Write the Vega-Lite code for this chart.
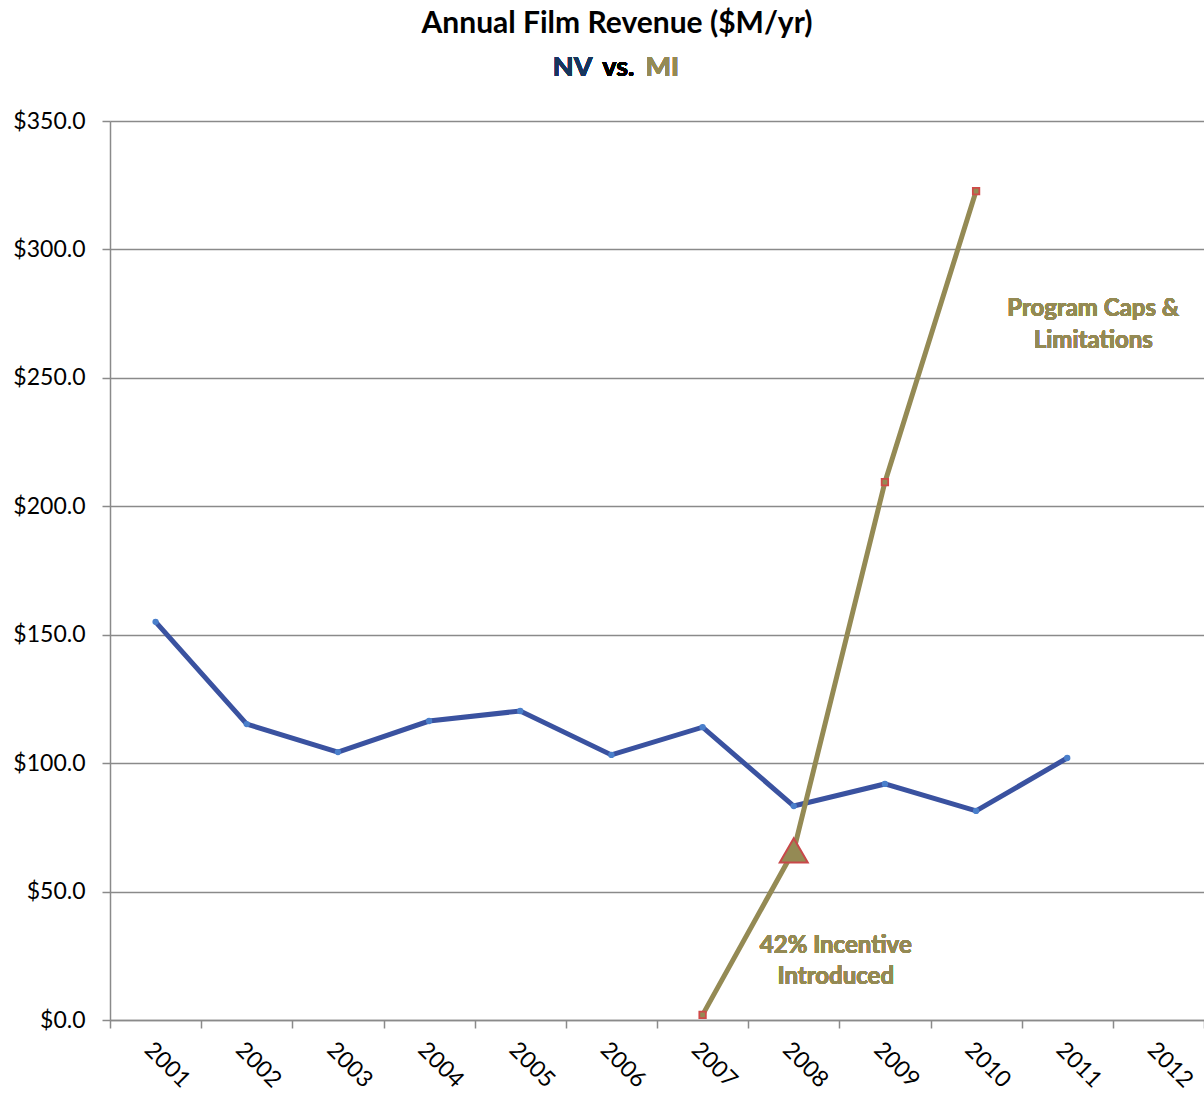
{
  "$schema": "https://vega.github.io/schema/vega-lite/v6.json",
  "width": 1094,
  "height": 899,
  "autosize": {"type": "none"},
  "padding": {"left": 110, "top": 121, "right": 0, "bottom": 77},
  "background": "white",
  "title": {
    "text": "Annual Film Revenue ($M/yr)",
    "font": "Lato",
    "fontSize": 30,
    "fontWeight": "bold",
    "color": "#000000",
    "anchor": "middle",
    "frame": "group",
    "dx": -40,
    "offset": -9,
    "baseline": "alphabetic"
  },
  "config": {
    "view": {"stroke": null},
    "axis": {
      "labelFont": "Lato",
      "labelFontSize": 23,
      "labelColor": "#000000",
      "domainColor": "#8a8a8a",
      "domainWidth": 1.5,
      "tickColor": "#8a8a8a",
      "tickWidth": 1.5,
      "tickSize": 8,
      "gridColor": "#8a8a8a",
      "gridWidth": 1.5,
      "gridOpacity": 1,
      "title": null
    }
  },
  "data": {
    "values": [
      {"year": "2001", "series": "NV", "value": 155.0},
      {"year": "2002", "series": "NV", "value": 115.2},
      {"year": "2003", "series": "NV", "value": 104.3},
      {"year": "2004", "series": "NV", "value": 116.4},
      {"year": "2005", "series": "NV", "value": 120.3},
      {"year": "2006", "series": "NV", "value": 103.2},
      {"year": "2007", "series": "NV", "value": 114.0},
      {"year": "2008", "series": "NV", "value": 83.3},
      {"year": "2009", "series": "NV", "value": 91.9},
      {"year": "2010", "series": "NV", "value": 81.4},
      {"year": "2011", "series": "NV", "value": 102.0},
      {"year": "2007", "series": "MI", "value": 2.0},
      {"year": "2008", "series": "MI", "value": 66.0},
      {"year": "2009", "series": "MI", "value": 209.4},
      {"year": "2010", "series": "MI", "value": 322.7}
    ]
  },
  "encoding": {
    "x": {
      "field": "year",
      "type": "ordinal",
      "bandPosition": 0.5,
      "scale": {
        "type": "band",
        "domain": ["2001","2002","2003","2004","2005","2006","2007","2008","2009","2010","2011","2012"],
        "paddingInner": 0,
        "paddingOuter": 0
      },
      "axis": {
        "tickBand": "extent",
        "labelAngle": 45,
        "labelPadding": 10,
        "grid": false,
        "title": null
      }
    },
    "y": {
      "field": "value",
      "type": "quantitative",
      "scale": {"domain": [0, 350], "nice": false, "zero": true},
      "axis": {
        "values": [0, 50, 100, 150, 200, 250, 300, 350],
        "format": "$.1f",
        "labelPadding": 17,
        "grid": true,
        "title": null
      }
    }
  },
  "layer": [
    {
      "transform": [{"filter": "datum.series === 'NV'"}],
      "mark": {"type": "line", "color": "#3A52A0", "strokeWidth": 5}
    },
    {
      "transform": [{"filter": "datum.series === 'NV'"}],
      "mark": {"type": "circle", "color": "#4A7FCB", "size": 40, "opacity": 1}
    },
    {
      "transform": [{"filter": "datum.series === 'MI'"}],
      "mark": {"type": "line", "color": "#948A54", "strokeWidth": 5}
    },
    {
      "transform": [{"filter": "datum.series === 'MI' && datum.year !== '2008'"}],
      "mark": {"type": "point", "shape": "square", "size": 42, "filled": true, "fill": "#948A54", "stroke": "#D04A48", "strokeWidth": 1.8, "opacity": 1}
    },
    {
      "transform": [{"filter": "datum.series === 'MI' && datum.year === '2008'"}],
      "mark": {"type": "point", "shape": "triangle-up", "size": 784, "filled": true, "fill": "#948A54", "stroke": "#C8484A", "strokeWidth": 2, "opacity": 1}
    },
    {
      "mark": {"type": "text", "font": "Lato", "fontSize": 24, "fontWeight": "bold", "color": "#948A54", "align": "center", "baseline": "middle", "lineHeight": 31, "dx": 42},
      "encoding": {
        "x": {"datum": "2008", "bandPosition": 0.5},
        "y": {"datum": 28.8},
        "text": {"value": ["42% Incentive", "Introduced"]}
      }
    },
    {
      "mark": {"type": "text", "font": "Lato", "fontSize": 24, "fontWeight": "bold", "color": "#948A54", "align": "center", "baseline": "middle", "lineHeight": 32, "dx": 26},
      "encoding": {
        "x": {"datum": "2011", "bandPosition": 0.5},
        "y": {"datum": 276.8},
        "text": {"value": ["Program Caps &", "Limitations"]}
      }
    },
    {
      "mark": {"type": "text", "font": "Lato", "fontSize": 27, "fontWeight": "bold", "color": "#17365D", "align": "right", "baseline": "middle", "dx": -19},
      "encoding": {
        "x": {"datum": "2006", "bandPosition": 0.5},
        "y": {"datum": 370.6},
        "text": {"value": "NV"}
      }
    },
    {
      "mark": {"type": "text", "font": "Lato", "fontSize": 27, "fontWeight": "bold", "color": "#000000", "align": "center", "baseline": "middle", "dx": 7},
      "encoding": {
        "x": {"datum": "2006", "bandPosition": 0.5},
        "y": {"datum": 370.6},
        "text": {"value": "vs."}
      }
    },
    {
      "mark": {"type": "text", "font": "Lato", "fontSize": 27, "fontWeight": "bold", "color": "#948A54", "align": "left", "baseline": "middle", "dx": 34},
      "encoding": {
        "x": {"datum": "2006", "bandPosition": 0.5},
        "y": {"datum": 370.6},
        "text": {"value": "MI"}
      }
    }
  ]
}
